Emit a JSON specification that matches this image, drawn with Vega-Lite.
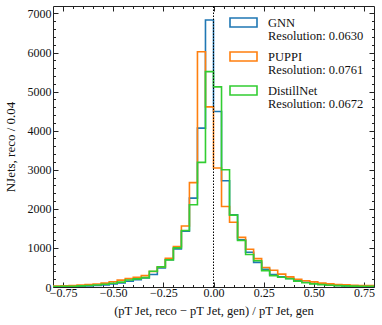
{
  "$schema": "https://vega.github.io/schema/vega-lite/v6.json",
  "width": 321,
  "height": 281,
  "autosize": {"type": "none"},
  "padding": {"left": 53, "top": 6, "right": 8, "bottom": 38},
  "background": "white",
  "config": {
    "font": "Liberation Serif",
    "view": {"stroke": "#222", "strokeWidth": 1}
  },
  "datasets": {
    "hist": [
      {"x": -0.8, "GNN": 9, "PUPPI": 25, "DistillNet": 12},
      {"x": -0.76, "GNN": 12, "PUPPI": 30, "DistillNet": 15},
      {"x": -0.72, "GNN": 16, "PUPPI": 38, "DistillNet": 20},
      {"x": -0.68, "GNN": 22, "PUPPI": 48, "DistillNet": 28},
      {"x": -0.64, "GNN": 30, "PUPPI": 60, "DistillNet": 38},
      {"x": -0.6, "GNN": 40, "PUPPI": 78, "DistillNet": 50},
      {"x": -0.56, "GNN": 55, "PUPPI": 100, "DistillNet": 70},
      {"x": -0.52, "GNN": 75, "PUPPI": 135, "DistillNet": 95},
      {"x": -0.48, "GNN": 105, "PUPPI": 175, "DistillNet": 125},
      {"x": -0.44, "GNN": 148, "PUPPI": 215, "DistillNet": 180},
      {"x": -0.4, "GNN": 184, "PUPPI": 250, "DistillNet": 209},
      {"x": -0.36, "GNN": 232, "PUPPI": 290, "DistillNet": 240},
      {"x": -0.32, "GNN": 320, "PUPPI": 395, "DistillNet": 403},
      {"x": -0.28, "GNN": 490, "PUPPI": 516, "DistillNet": 516},
      {"x": -0.24, "GNN": 700, "PUPPI": 735, "DistillNet": 694},
      {"x": -0.2, "GNN": 975, "PUPPI": 1035, "DistillNet": 1000},
      {"x": -0.16, "GNN": 1430, "PUPPI": 1560, "DistillNet": 1445},
      {"x": -0.12, "GNN": 2275, "PUPPI": 2670, "DistillNet": 2106},
      {"x": -0.08, "GNN": 4065, "PUPPI": 6020, "DistillNet": 3190},
      {"x": -0.04, "GNN": 6830, "PUPPI": 4610, "DistillNet": 5510},
      {"x": 0, "GNN": 4490, "PUPPI": 3045, "DistillNet": 5120},
      {"x": 0.04, "GNN": 2720, "PUPPI": 2060, "DistillNet": 3000},
      {"x": 0.08, "GNN": 1850, "PUPPI": 1655, "DistillNet": 1840},
      {"x": 0.12, "GNN": 1210, "PUPPI": 1270, "DistillNet": 1190},
      {"x": 0.16, "GNN": 890, "PUPPI": 965, "DistillNet": 830},
      {"x": 0.2, "GNN": 630, "PUPPI": 725, "DistillNet": 670},
      {"x": 0.24, "GNN": 450, "PUPPI": 500, "DistillNet": 420},
      {"x": 0.28, "GNN": 320, "PUPPI": 430, "DistillNet": 290},
      {"x": 0.32, "GNN": 260, "PUPPI": 330, "DistillNet": 250},
      {"x": 0.36, "GNN": 220, "PUPPI": 260, "DistillNet": 210},
      {"x": 0.4, "GNN": 160, "PUPPI": 200, "DistillNet": 150},
      {"x": 0.44, "GNN": 120, "PUPPI": 160, "DistillNet": 110},
      {"x": 0.48, "GNN": 90, "PUPPI": 130, "DistillNet": 80},
      {"x": 0.52, "GNN": 70, "PUPPI": 100, "DistillNet": 60},
      {"x": 0.56, "GNN": 50, "PUPPI": 80, "DistillNet": 45},
      {"x": 0.6, "GNN": 40, "PUPPI": 65, "DistillNet": 35},
      {"x": 0.64, "GNN": 30, "PUPPI": 55, "DistillNet": 28},
      {"x": 0.68, "GNN": 25, "PUPPI": 45, "DistillNet": 22},
      {"x": 0.72, "GNN": 20, "PUPPI": 40, "DistillNet": 18},
      {"x": 0.76, "GNN": 15, "PUPPI": 35, "DistillNet": 15},
      {"x": 0.8, "GNN": 15, "PUPPI": 35, "DistillNet": 15}
    ]
  },
  "layer": [
    {
      "data": {"name": "hist"},
      "transform": [{"fold": ["GNN", "PUPPI", "DistillNet"], "as": ["model", "count"]}],
      "mark": {"type": "line", "interpolate": "step-after", "strokeWidth": 1.6, "clip": true},
      "encoding": {
        "x": {
          "field": "x", "type": "quantitative",
          "scale": {"domain": [-0.8, 0.8], "nice": false, "zero": false},
          "axis": {
            "orient": "bottom",
            "values": [-0.75,-0.7,-0.65,-0.6,-0.55,-0.5,-0.45,-0.4,-0.35,-0.3,-0.25,-0.2,-0.15,-0.1,-0.05,0,0.05,0.1,0.15,0.2,0.25,0.3,0.35,0.4,0.45,0.5,0.55,0.6,0.65,0.7,0.75],
            "labelExpr": "abs(datum.value*4 - round(datum.value*4)) < 0.001 ? replace(format(datum.value, '.2f'), '-', '\u2212') : ''",
            "tickSize": {"condition": {"test": "abs(datum.value*4 - round(datum.value*4)) < 0.001", "value": -5}, "value": -2.5},
            "tickColor": "#222",
            "domain": false, "grid": false,
            "labelOverlap": false, "labelFlush": false, "labelBound": false,
            "labelFontSize": 12, "labelColor": "#111", "labelPadding": 5,
            "title": "(pT Jet, reco \u2212 pT Jet, gen) / pT Jet, gen",
            "titleFontSize": 12.5, "titleFontWeight": "normal", "titleColor": "#111", "titlePadding": 4
          }
        },
        "y": {
          "field": "count", "type": "quantitative",
          "scale": {"domain": [0, 7190], "nice": false},
          "axis": {
            "orient": "left",
            "values": [0,200,400,600,800,1000,1200,1400,1600,1800,2000,2200,2400,2600,2800,3000,3200,3400,3600,3800,4000,4200,4400,4600,4800,5000,5200,5400,5600,5800,6000,6200,6400,6600,6800,7000],
            "labelExpr": "datum.value % 1000 === 0 ? format(datum.value, 'd') : ''",
            "tickSize": {"condition": {"test": "datum.value % 1000 === 0", "value": -5}, "value": -2.5},
            "tickColor": "#222",
            "domain": false, "grid": false,
            "labelOverlap": false, "labelBound": false, "labelFlush": false,
            "labelFontSize": 12, "labelColor": "#111", "labelPadding": 7,
            "title": "NJets, reco / 0.04",
            "titleFontSize": 13, "titleFontWeight": "normal", "titleColor": "#111", "titlePadding": 10
          }
        },
        "color": {
          "field": "model", "type": "nominal",
          "scale": {"domain": ["GNN", "PUPPI", "DistillNet"], "range": ["#1f77b4", "#ff7f0e", "#32cd32"]},
          "legend": {
            "orient": "none", "legendX": 176, "legendY": 2, "padding": 0, "title": null,
            "symbolType": "M-1,-0.333H1V0.333H-1Z", "symbolSize": 729,
            "symbolStrokeWidth": 1.6, "symbolFillColor": "transparent",
            "labelFontSize": 12.5, "labelColor": "#111", "labelOffset": 10, "labelLimit": 0,
            "rowPadding": -2.5, "labelBaseline": "middle",
            "labelExpr": "[datum.label, 'Resolution: ' + (datum.label === 'GNN' ? '0.0630' : datum.label === 'PUPPI' ? '0.0761' : '0.0672')]",
            "encode": {"labels": {"update": {"lineHeight": {"value": 13}}}}
          }
        }
      }
    },
    {
      "data": {"values": [{"ref": 0}]},
      "mark": {"type": "rule", "strokeDash": [1.5, 1.5], "color": "black", "strokeWidth": 1},
      "encoding": {
        "x": {
          "field": "ref", "type": "quantitative",
          "axis": {
            "orient": "top",
            "values": [-0.75,-0.7,-0.65,-0.6,-0.55,-0.5,-0.45,-0.4,-0.35,-0.3,-0.25,-0.2,-0.15,-0.1,-0.05,0,0.05,0.1,0.15,0.2,0.25,0.3,0.35,0.4,0.45,0.5,0.55,0.6,0.65,0.7,0.75],
            "labels": false, "title": null, "domain": false, "grid": false,
            "tickSize": {"condition": {"test": "abs(datum.value*4 - round(datum.value*4)) < 0.001", "value": -5}, "value": -2.5},
            "tickColor": "#222"
          }
        },
        "y": {
          "datum": 0, "type": "quantitative",
          "axis": {
            "orient": "right",
            "values": [0,200,400,600,800,1000,1200,1400,1600,1800,2000,2200,2400,2600,2800,3000,3200,3400,3600,3800,4000,4200,4400,4600,4800,5000,5200,5400,5600,5800,6000,6200,6400,6600,6800,7000],
            "labels": false, "title": null, "domain": false, "grid": false,
            "tickSize": {"condition": {"test": "datum.value % 1000 === 0", "value": -5}, "value": -2.5},
            "tickColor": "#222"
          }
        },
        "y2": {"datum": 7190}
      }
    }
  ],
  "resolve": {"axis": {"x": "independent", "y": "independent"}}
}
